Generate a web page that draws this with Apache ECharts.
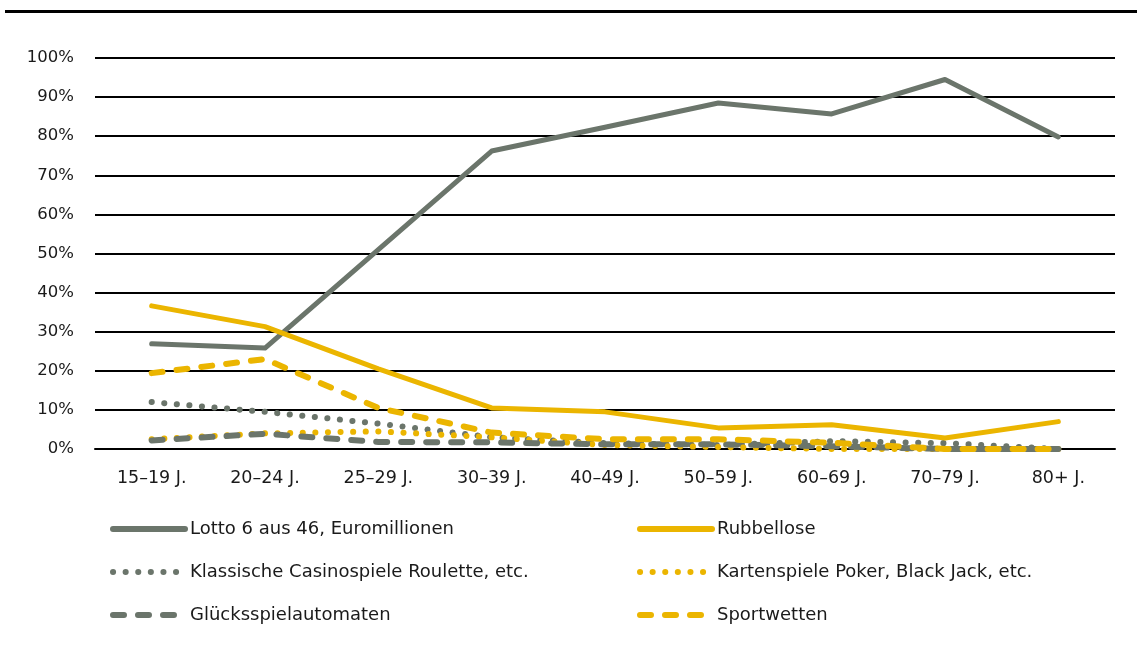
<!DOCTYPE html>
<html><head><meta charset="utf-8">
<script src="https://cdn.jsdelivr.net/npm/echarts@6/dist/echarts.min.js"></script>
<style>html,body{margin:0;padding:0;background:#fff}#c{width:1137px;height:654px}</style>
</head><body><div id="c"></div>
<script>
const categories = ['15–19 J.','20–24 J.','25–29 J.','30–39 J.','40–49 J.','50–59 J.','60–69 J.','70–79 J.','80+ J.'];
const lotto = [26.9, 25.8, 51, 76.2, 82.3, 88.5, 85.7, 94.5, 79.8];
const rubbellose = [36.6, 31.3, 20.5, 10.5, 9.5, 5.4, 6.2, 2.8, 7];
const casino = [12, 9.5, 6.5, 3, 1.5, 1, 2, 1.5, 0];
const karten = [2.5, 4, 4.5, 3, 1, 0.5, 0, 0, 0];
const automaten = [2.2, 3.9, 1.8, 1.7, 1.2, 1.2, 0.7, 0, 0];
const sport = [19.4, 23, 10.5, 4.2, 2.5, 2.5, 1.6, 0, 0];
const names = ['Lotto 6 aus 46, Euromillionen','Rubbellose','Klassische Casinospiele Roulette, etc.','Kartenspiele Poker, Black Jack, etc.','Glücksspielautomaten','Sportwetten'];

const GREY = '#6b756b', YELLOW = '#ebb500';
const FONT = 'DejaVu Sans';
function s(name, data, color, type, width, z){
  return {name, type:'line', data, symbol:'none', z,
    lineStyle:{color, width, type, cap:'round', join:'round'},
    itemStyle:{color}};
}
const dot = [0.1, 12.5], dash = [11, 14];
const chart = echarts.init(document.getElementById('c'));
const legendBase = {orient:'vertical', itemWidth:72, itemHeight:8, itemGap:25, padding:0,
  textStyle:{fontFamily:FONT, fontSize:18, color:'#1a1a1a'},
  itemStyle:{opacity:0},
  lineStyle:{width:6, type:'inherit', cap:'round'}};
chart.setOption({
  animation:false,
  graphic:[{type:'rect', shape:{x:5,y:10,width:1132,height:3}, style:{fill:'#000'}}],
  grid:{left:95, right:22, top:58, bottom:205},
  xAxis:{type:'category', data:categories,
    axisLine:{lineStyle:{color:'#000', width:2}}, axisTick:{show:false},
    axisLabel:{fontFamily:FONT, fontSize:17.5, color:'#1a1a1a', margin:20}},
  yAxis:{type:'value', min:0, max:100, interval:10,
    axisLine:{show:false}, axisTick:{show:false},
    axisLabel:{formatter:'{value}%', fontFamily:FONT, fontSize:16.5, color:'#1a1a1a', margin:21},
    splitLine:{lineStyle:{color:'#000', width:2}}},
  legend:[
    Object.assign({left:110, top:520, data:[names[0],names[2],names[4]]}, legendBase),
    Object.assign({left:637, top:520, data:[names[1],names[3],names[5]]}, legendBase)
  ],
  series:[
    s(names[0], lotto, GREY, 'solid', 5, 2),
    s(names[2], casino, GREY, dot, 6, 3),
    s(names[3], karten, YELLOW, dot, 6, 4),
    s(names[4], automaten, GREY, dash, 6, 5),
    s(names[5], sport, YELLOW, dash, 6, 6),
    s(names[1], rubbellose, YELLOW, 'solid', 5, 7)
  ]
});
</script></body></html>
